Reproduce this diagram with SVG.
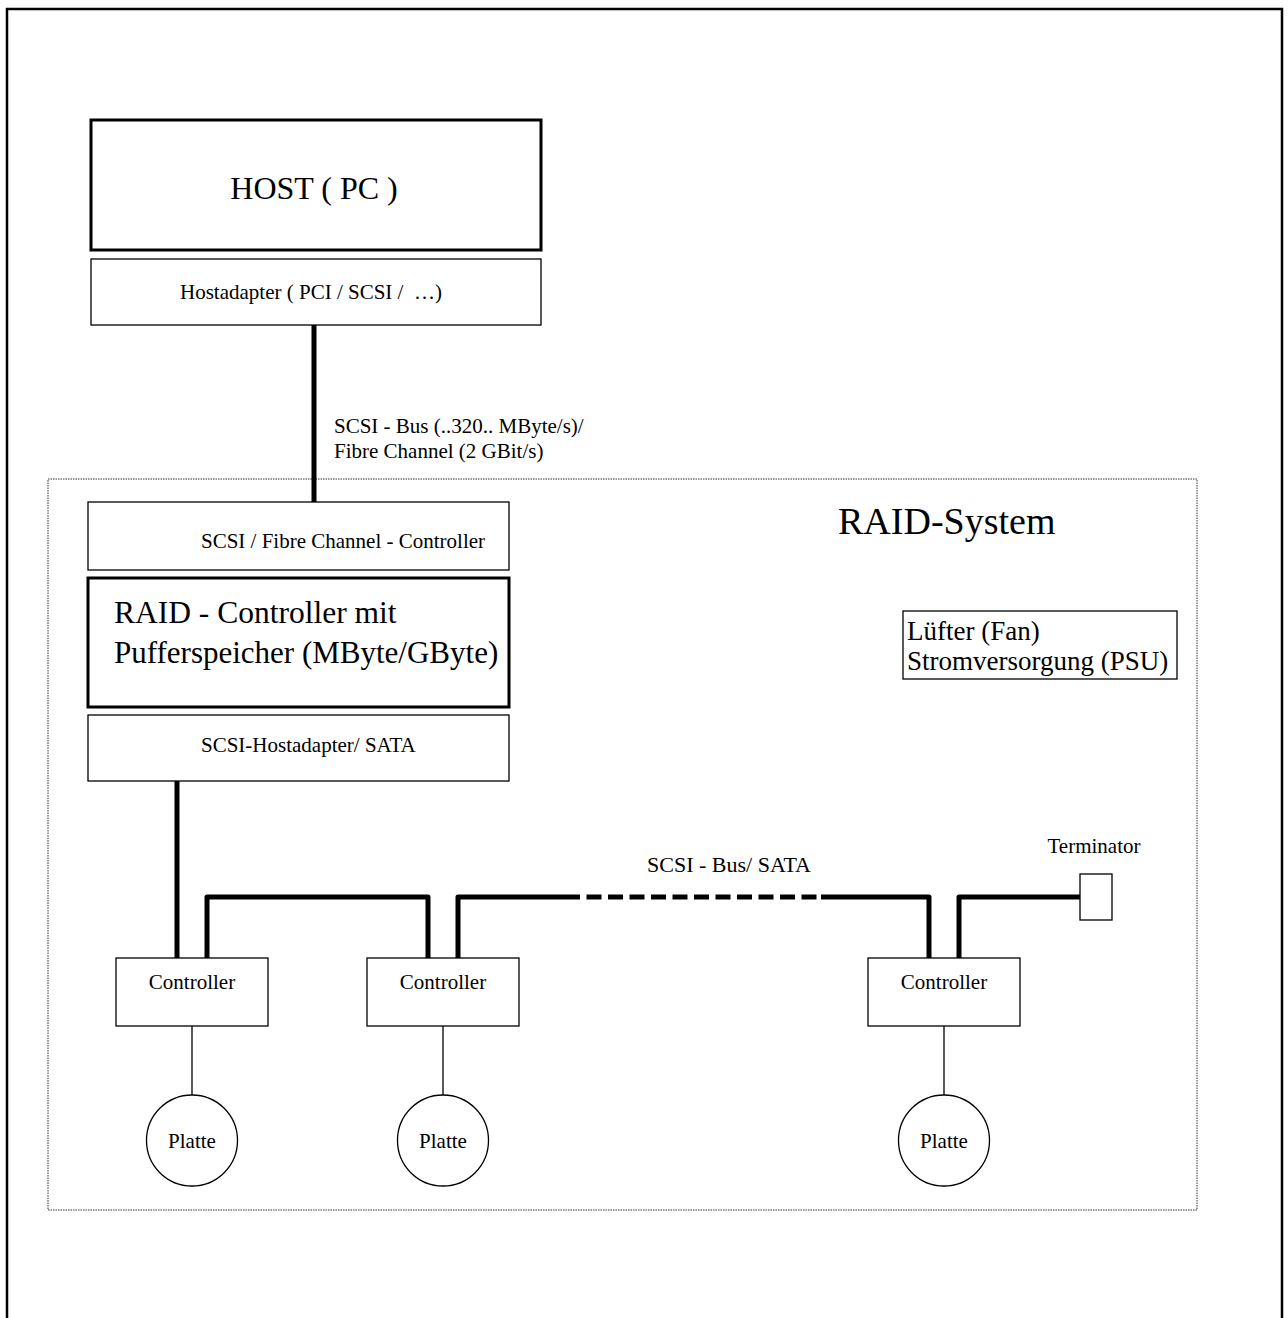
<svg xmlns="http://www.w3.org/2000/svg" width="1288" height="1318" viewBox="0 0 1288 1318">
<style>
text{font-family:"Liberation Serif","Times New Roman",serif;fill:#000}
.s{font-size:21px}
.thin{fill:#fff;stroke:#000;stroke-width:1.3}
.thick{fill:#fff;stroke:#000;stroke-width:3}
.bus{fill:none;stroke:#000;stroke-width:5;stroke-linejoin:round}
.wire{fill:none;stroke:#000;stroke-width:1.3}
</style>
<rect width="1288" height="1318" fill="#fff"/>
<path d="M7,1318 V9 H1282 V1318" fill="none" stroke="#000" stroke-width="2.5"/>
<g id="raid-system">
<rect x="48" y="479" width="1149" height="731" fill="none" stroke="#333" stroke-width="1" stroke-dasharray="1.5,1"/>
<text x="838" y="534" style="font-size:38px">RAID-System</text>
</g>
<g id="connectors">
<line x1="314" y1="325" x2="314" y2="502" class="bus"/>
<line x1="177" y1="781" x2="177" y2="958" class="bus"/>
<path d="M207,958 V897 H428 V958" class="bus"/>
<path d="M458,958 V897 H565" class="bus"/>
<line x1="565" y1="897" x2="821" y2="897" class="bus" stroke-dasharray="15,6.5"/>
<path d="M821,897 H929 V958" class="bus"/>
<path d="M959,958 V897 H1080" class="bus"/>
<line x1="192" y1="1026" x2="192" y2="1095" class="wire"/>
<line x1="443" y1="1026" x2="443" y2="1095" class="wire"/>
<line x1="944" y1="1026" x2="944" y2="1095" class="wire"/>
<text x="334" y="433" class="s">SCSI - Bus (..320.. MByte/s)/</text>
<text x="334" y="458" class="s">Fibre Channel (2 GBit/s)</text>
<text x="729" y="872" style="font-size:22px" text-anchor="middle">SCSI - Bus/ SATA</text>
</g>
<g id="host">
<rect x="91" y="120" width="450" height="130" class="thick"/>
<text x="314" y="199" style="font-size:32px" text-anchor="middle">HOST ( PC )</text>
</g>
<g id="hostadapter">
<rect x="91" y="259" width="450" height="66" class="thin"/>
<text x="180" y="299" class="s" xml:space="preserve">Hostadapter ( PCI / SCSI /  …)</text>
</g>
<g id="fc-controller">
<rect x="88" y="502" width="421" height="68" class="thin"/>
<text x="201" y="548" class="s">SCSI / Fibre Channel - Controller</text>
</g>
<g id="raid-controller">
<rect x="88" y="578" width="421" height="129" class="thick"/>
<text x="114" y="623" style="font-size:31.5px">RAID - Controller mit</text>
<text x="114" y="663" style="font-size:31px">Pufferspeicher (MByte/GByte)</text>
</g>
<g id="scsi-hostadapter">
<rect x="88" y="715" width="421" height="66" class="thin"/>
<text x="201" y="752" class="s">SCSI-Hostadapter/ SATA</text>
</g>
<g id="fan-psu">
<rect x="903" y="611" width="274" height="68" class="thin"/>
<text x="907" y="640" style="font-size:27px">Lüfter (Fan)</text>
<text x="907" y="670" style="font-size:27px">Stromversorgung (PSU)</text>
</g>
<g id="terminator">
<rect x="1080" y="874" width="32" height="46" class="thin"/>
<text x="1094" y="853" class="s" text-anchor="middle">Terminator</text>
</g>
<g id="controller1">
<rect x="116" y="958" width="152" height="68" class="thin"/>
<text x="192" y="989" class="s" text-anchor="middle">Controller</text>
</g>
<g id="controller2">
<rect x="367" y="958" width="152" height="68" class="thin"/>
<text x="443" y="989" class="s" text-anchor="middle">Controller</text>
</g>
<g id="controller3">
<rect x="868" y="958" width="152" height="68" class="thin"/>
<text x="944" y="989" class="s" text-anchor="middle">Controller</text>
</g>
<g id="platte1">
<circle cx="192" cy="1140.5" r="45.5" class="thin"/>
<text x="192" y="1148" class="s" text-anchor="middle">Platte</text>
</g>
<g id="platte2">
<circle cx="443" cy="1140.5" r="45.5" class="thin"/>
<text x="443" y="1148" class="s" text-anchor="middle">Platte</text>
</g>
<g id="platte3">
<circle cx="944" cy="1140.5" r="45.5" class="thin"/>
<text x="944" y="1148" class="s" text-anchor="middle">Platte</text>
</g>
</svg>
